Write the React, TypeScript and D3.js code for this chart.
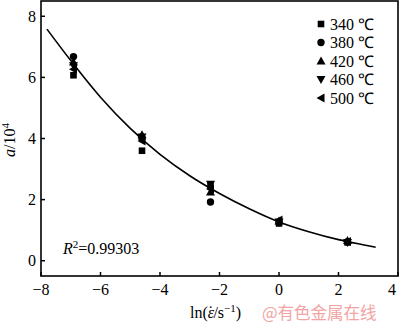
import React from "react";
import * as d3 from "d3";

const lnRates = [-6.908, -4.605, -2.303, 0, 2.303];
const temps = ["340 ℃", "380 ℃", "420 ℃", "460 ℃", "500 ℃"];
const s340 = [6.07, 3.6, 2.45, 1.22, 0.6];
const s380 = [6.68, 4.0, 1.92, 1.25, 0.62];
const s420 = [6.5, 4.12, 2.25, 1.3, 0.66];
const s460 = [6.38, 4.05, 2.5, 1.27, 0.6];
const s500 = [6.27, 3.92, 2.35, 1.33, 0.63];
const series = [s340, s380, s420, s460, s500];
const markers = ["square", "circle", "up", "down", "left"];

const fitX = [-7.8, -7, -6, -5, -4, -3, -2, -1, 0, 1, 2, 3, 3.25];
const fitY = [7.58, 6.55, 5.35, 4.33, 3.48, 2.78, 2.2, 1.7, 1.27, 0.95, 0.69, 0.49, 0.44];

const xTicks = [-8, -6, -4, -2, 0, 2, 4];
const yTicks = [0, 2, 4, 6, 8];

const W = 400, H = 325;
const L = 41, R = 398, T = 1, B = 276;
const font = "'Liberation Serif', 'Times New Roman', serif";

function Marker({ type, x, y }: { type: string; x: number; y: number }) {
  const s = 4;
  if (type === "square") return <rect x={x - 3.3} y={y - 3.3} width={6.6} height={6.6} fill="#000" />;
  if (type === "circle") return <circle cx={x} cy={y} r={3.7} fill="#000" />;
  let pts: number[][] = [];
  if (type === "up") pts = [[x, y - s - 0.5], [x - s - 0.5, y + s - 0.5], [x + s + 0.5, y + s - 0.5]];
  if (type === "down") pts = [[x, y + s + 0.5], [x - s - 0.5, y - s + 0.5], [x + s + 0.5, y - s + 0.5]];
  if (type === "left") pts = [[x - s - 0.5, y], [x + s - 0.5, y - s - 0.5], [x + s - 0.5, y + s + 0.5]];
  return <polygon points={pts.map((p) => p.join(",")).join(" ")} fill="#000" />;
}

export default function App() {
  const x = d3.scaleLinear().domain([-8, 4]).range([L, R]);
  const y = d3.scaleLinear().domain([-0.5, 8.5]).range([B, T]);
  const line = d3
    .line<number>()
    .x((_, i) => x(fitX[i]))
    .y((d) => y(d))
    .curve(d3.curveMonotoneX);

  return (
    <svg width={W} height={H} style={{ position: "absolute", left: 0, top: 0, background: "#fff" }} fontFamily={font}>
      <rect x={0} y={0} width={W} height={H} fill="#fff" />
      <path d={line(fitY) || ""} fill="none" stroke="#000" strokeWidth={1.6} />
      {series.map((ser, si) =>
        ser.map((v, i) => <Marker key={si + "-" + i} type={markers[si]} x={x(lnRates[i])} y={y(v)} />)
      )}
      <rect x={L} y={T} width={R - L} height={B - T} fill="none" stroke="#000" strokeWidth={1.6} />
      {yTicks.map((t) => (
        <g key={"y" + t}>
          <line x1={L} x2={L + 4} y1={y(t)} y2={y(t)} stroke="#000" strokeWidth={1.5} />
          <text x={L - 5} y={y(t) + 5.5} fontSize={16} textAnchor="end">{t}</text>
        </g>
      ))}
      {xTicks.map((t) => (
        <g key={"x" + t}>
          <line x1={x(t)} x2={x(t)} y1={B} y2={B - 4} stroke="#000" strokeWidth={1.5} />
          <text x={Math.min(x(t), 392)} y={295} fontSize={16} textAnchor="middle">{t < 0 ? "−" + Math.abs(t) : t}</text>
        </g>
      ))}
      <text x={190} y={318} fontSize={16}>
        ln(<tspan fontStyle="italic">ε</tspan><tspan dx={-6} dy={-1}>˙</tspan><tspan dy={1}>/s</tspan><tspan fontSize={11} dy={-6}>−1</tspan><tspan dy={6}>)</tspan>
      </text>
      <text transform="translate(15,140) rotate(-90)" fontSize={16} textAnchor="middle">
        <tspan fontStyle="italic">a</tspan>/10<tspan fontSize={11} dy={-6}>4</tspan>
      </text>
      <text x={63} y={254} fontSize={16}>
        <tspan fontStyle="italic">R</tspan><tspan fontSize={11} dy={-6}>2</tspan><tspan dy={6}>=0.99303</tspan>
      </text>
      {temps.map((t, i) => (
        <g key={t}>
          <Marker type={markers[i]} x={321} y={24 + i * 18.5} />
          <text x={330} y={24 + i * 18.5 + 5.5} fontSize={16}>{t}</text>
        </g>
      ))}
      <text x={262} y={319} fontSize={16.5} fill="#f2a3a3" fontFamily="'Noto Sans CJK SC', sans-serif">@有色金属在线</text>
    </svg>
  );
}
